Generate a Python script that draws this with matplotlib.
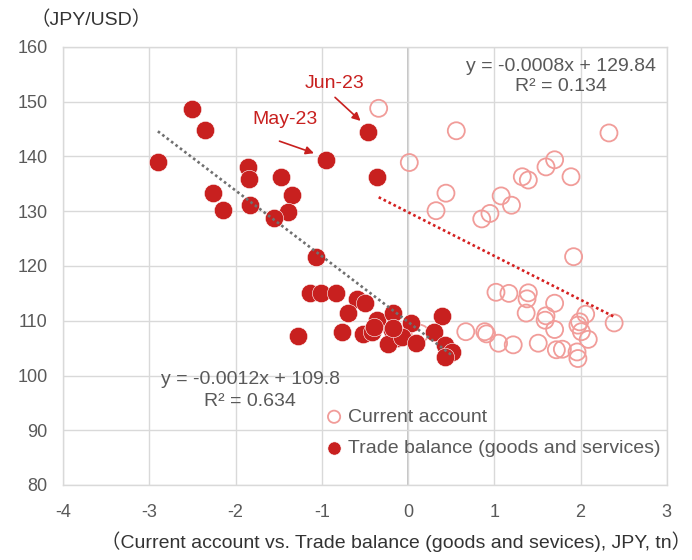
import matplotlib
matplotlib.use("Agg")
import matplotlib.pyplot as plt
import numpy as np

# ---- data (JPY tn, JPY/USD) ----
trade_x = [-2.50, -2.35, -2.90, -1.855, -1.84, -2.26, -2.14, -1.83, -1.47, -1.34,
           -1.39, -1.55, -1.07, -0.947, -0.46, -0.36, -1.136, -1.01, -0.84, -0.59,
           -0.50, -0.70, -0.36, -0.17, 0.04, 0.39, 0.30, -1.27, -0.76, -0.52,
           -0.42, -0.19, -0.13, -0.235, -0.07, 0.09, 0.43, 0.51, 0.43, -0.17, -0.40]
trade_y = [148.7, 144.8, 139.0, 138.1, 135.8, 133.3, 130.2, 131.1, 136.2, 132.9,
           129.8, 128.7, 121.7, 139.4, 144.4, 136.3, 115.0, 115.0, 115.0, 114.0,
           113.2, 111.5, 110.1, 111.4, 109.6, 110.9, 108.0, 107.2, 107.9, 107.5,
           108.0, 108.4, 106.8, 105.8, 107.0, 105.9, 105.6, 104.3, 103.3, 108.6, 108.9]

ca_x = [-0.34, 0.56, 2.33, 0.015, 0.44, 0.325, 0.855, 0.95, 1.08, 1.20,
        1.325, 1.395, 1.60, 1.70, 1.89, 1.92, 0.14, 0.67, 0.89, 0.91,
        1.05, 1.22, 1.02, 1.17, 1.395, 1.38, 1.37, 1.70, 1.60, 1.59,
        1.70, 1.51, 1.72, 1.79, 1.96, 1.97, 2.06, 1.99, 1.97, 2.01, 2.09, 2.39]
ca_y = [148.8, 144.7, 144.3, 138.9, 133.3, 130.1, 128.6, 129.6, 132.8, 131.1,
        136.3, 135.7, 138.1, 139.4, 136.3, 121.7, 107.7, 108.0, 108.0, 107.6,
        105.9, 105.6, 115.2, 115.0, 115.1, 114.0, 111.4, 113.2, 110.9, 110.1,
        108.4, 105.9, 104.7, 104.8, 104.3, 103.1, 111.2, 109.8, 109.2, 108.0, 106.6, 109.6]

# trendline coefficients (per 100 mn JPY as shown in labels)
trade_slope, trade_icpt = -0.0012, 109.8
ca_slope, ca_icpt = -0.0008, 129.84

x_ticks = [-4, -3, -2, -1, 0, 1, 2, 3]
y_ticks = [80, 90, 100, 110, 120, 130, 140, 150, 160]

RED = "#C8201F"
PINK = "#F19C99"
GREY_TXT = "#595959"
GRID = "#D9D9D9"
FONT = ["Liberation Sans", "Noto Sans CJK JP", "DejaVu Sans"]
plt.rcParams["font.family"] = FONT
plt.rcParams["axes.unicode_minus"] = False

fig = plt.figure(figsize=(6.92, 5.6), dpi=100)
ax = fig.add_axes([63/692, 1-485/560, (666.75-63)/692, (485-47)/560])

ax.set_xlim(-4, 3)
ax.set_ylim(80, 160)
ax.set_xticks(x_ticks)
ax.set_yticks(y_ticks)
ax.grid(True, color=GRID, lw=1.0, zorder=0)
ax.set_axisbelow(True)
for s in ax.spines.values():
    s.set_color(GRID)
    s.set_linewidth(1.0)
ax.axvline(0, color="#BFBFBF", lw=1.3, zorder=0.5)
ax.tick_params(length=0, labelsize=13, colors=GREY_TXT)
ax.tick_params(axis="y", pad=11)
ax.tick_params(axis="x", pad=14)

sc_ca = ax.scatter(ca_x, ca_y, s=150, facecolors="none", edgecolors=PINK,
                   linewidths=1.3, zorder=2, label="Current account")
sc_tr = ax.scatter(trade_x, trade_y, s=175, color=RED, edgecolors="white",
                   linewidths=0.4, zorder=3, label="Trade balance (goods and services)")

# trendlines (convert slope per 100mn JPY -> per tn JPY)
tx = np.array([min(trade_x), max(trade_x)])
ax.plot(tx, trade_icpt + trade_slope * 1e4 * tx, ls=(0, (1, 1.1)), color="#707070",
        lw=1.9, zorder=4, dash_capstyle="butt")
cx = np.array([min(ca_x), max(ca_x)])
ax.plot(cx, ca_icpt + ca_slope * 1e4 * cx, ls=(0, (1, 1.1)), color="#D42020",
        lw=1.9, zorder=4, dash_capstyle="butt")

# equations
EQ = 14
ax.text(1.775, 156.5, "y = -0.0008x + 129.84", ha="center", va="center",
        fontsize=EQ, color=GREY_TXT)
ax.text(1.775, 152.7, "R² = 0.134", ha="center", va="center",
        fontsize=EQ, color=GREY_TXT)
ax.text(-1.83, 99.2, "y = -0.0012x + 109.8", ha="center", va="center",
        fontsize=EQ, color=GREY_TXT)
ax.text(-1.83, 95.2, "R² = 0.634", ha="center", va="center",
        fontsize=EQ, color=GREY_TXT)

# annotations
ax.text(-0.846, 153.4, "Jun-23", ha="center", va="center", fontsize=14, color=RED)
ax.annotate("", xy=(-0.55, 146.5), xytext=(-0.846, 150.8),
            arrowprops=dict(arrowstyle="-|>", color=RED, lw=1.2, mutation_scale=12,
                            shrinkA=0, shrinkB=0))
ax.text(-1.426, 146.8, "May-23", ha="center", va="center", fontsize=14, color=RED)
ax.annotate("", xy=(-1.09, 140.6), xytext=(-1.49, 142.8),
            arrowprops=dict(arrowstyle="-|>", color=RED, lw=1.2, mutation_scale=12,
                            shrinkA=0, shrinkB=0))

leg = ax.legend(handles=[sc_ca, sc_tr], loc="lower left",
                bbox_to_anchor=(0.42, 0.046), frameon=False, fontsize=14,
                handletextpad=0.2, handlelength=1.0, labelspacing=0.7,
                markerscale=0.72, borderaxespad=0)
for t in leg.get_texts():
    t.set_color(GREY_TXT)

fig.text(31/692, 1-20/560, "（JPY/USD）", ha="left", va="center", fontsize=14,
         color="#333333")
fig.text(396/692, 1-542/560,
         "（Current account vs. Trade balance (goods and sevices), JPY, tn）",
         ha="center", va="center", fontsize=14, color="#333333")

fig.savefig("out.png", dpi=100)
